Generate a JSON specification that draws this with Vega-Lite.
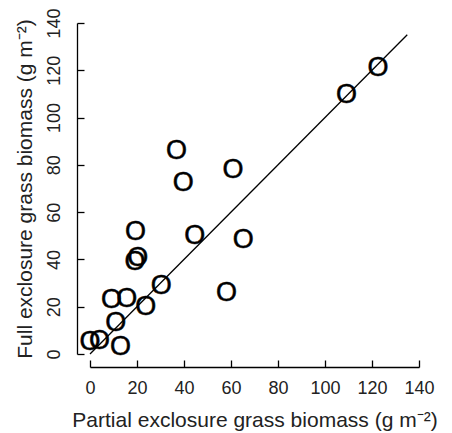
{
  "$schema": "https://vega.github.io/schema/vega-lite/v6.json",
  "width": 329,
  "height": 331,
  "autosize": "none",
  "padding": {"left": 90, "top": 23, "right": 33, "bottom": 79},
  "background": "white",
  "config": {
    "view": {"stroke": null},
    "font": "Liberation Sans",
    "axis": {
      "grid": false,
      "domainColor": "black",
      "domainWidth": 1.3,
      "tickColor": "black",
      "tickWidth": 1.3,
      "tickSize": -7,
      "labelFont": "Liberation Sans",
      "labelFontSize": 18,
      "labelColor": "#222",
      "titleFont": "Liberation Sans",
      "titleFontSize": 21,
      "titleFontWeight": "normal",
      "titleColor": "#222",
      "offset": 13
    }
  },
  "layer": [
    {
      "data": {"values": [{"x": 0, "y": 0}, {"x": 135, "y": 135}]},
      "mark": {"type": "line", "color": "black", "strokeWidth": 1.3},
      "encoding": {
        "x": {"field": "x", "type": "quantitative", "scale": {"domain": [0, 140], "nice": false}},
        "y": {"field": "y", "type": "quantitative", "scale": {"domain": [0, 140], "nice": false}}
      }
    },
    {
      "data": {"values": [
        {"partial": 0, "full": 5.2},
        {"partial": 4, "full": 5.6},
        {"partial": 13, "full": 3.1},
        {"partial": 11, "full": 13.3},
        {"partial": 9.2, "full": 22.9},
        {"partial": 15.6, "full": 23.1},
        {"partial": 23.7, "full": 20},
        {"partial": 30.3, "full": 28.9},
        {"partial": 19.1, "full": 39.1},
        {"partial": 20.3, "full": 40.5},
        {"partial": 19.4, "full": 51.5},
        {"partial": 36.8, "full": 85.9},
        {"partial": 39.7, "full": 72.3},
        {"partial": 44.6, "full": 50.1},
        {"partial": 60.9, "full": 77.9},
        {"partial": 65.2, "full": 48.3},
        {"partial": 58.1, "full": 25.7},
        {"partial": 109.1, "full": 109.7},
        {"partial": 122.6, "full": 120.9}
      ]},
      "mark": {"type": "text", "text": "O", "fontSize": 27, "font": "Liberation Sans", "color": "black", "stroke": "black", "strokeWidth": 0.5, "align": "center", "baseline": "middle"},
      "encoding": {
        "x": {
          "field": "partial", "type": "quantitative",
          "scale": {"domain": [0, 140], "nice": false},
          "axis": {"title": "Partial exclosure grass biomass (g m⁻²)", "values": [0, 20, 40, 60, 80, 100, 120, 140], "labelPadding": 19, "titlePadding": 12, "labelFlush": false}
        },
        "y": {
          "field": "full", "type": "quantitative",
          "scale": {"domain": [0, 140], "nice": false},
          "axis": {"title": "Full exclosure grass biomass (g m⁻²)", "values": [0, 20, 40, 60, 80, 100, 120, 140], "labelAngle": -90, "labelAlign": "center", "labelBaseline": "bottom", "labelPadding": 21, "titlePadding": 10, "labelFlush": false}
        }
      }
    }
  ]
}
